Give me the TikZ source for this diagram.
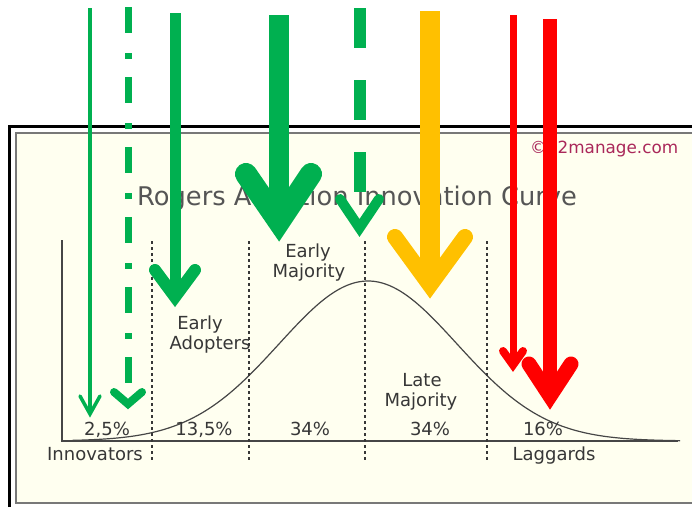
\documentclass[tikz,border=0pt]{standalone}
\usepackage{fontspec}
\setmainfont{DejaVu Sans}
\definecolor{offgreen}{HTML}{00B050}
\definecolor{offorange}{HTML}{FFC000}
\definecolor{offred}{HTML}{FF0000}
\definecolor{cream}{HTML}{FFFFF0}
\definecolor{framegray}{RGB}{120,120,120}
\definecolor{axisgray}{RGB}{70,70,70}
\definecolor{labelgray}{RGB}{55,55,55}
\definecolor{titlegray}{RGB}{85,85,85}
\definecolor{copyred}{RGB}{170,40,90}
\begin{document}
\begin{tikzpicture}[x=1pt,y=-1pt,
    lbl/.style={inner sep=0pt, anchor=base, text=labelgray, font=\fontsize{18}{20}\selectfont},
    divider/.style={labelgray, line width=1.6pt, dash pattern=on 3pt off 3pt},
    shaft/.style={line cap=butt},
    barb/.style={line cap=round, line join=miter}]
    \useasboundingbox (0,0) rectangle (692,507);
    \fill[white] (0,0) rectangle (692,507);
    \fill[cream] (16,133) rectangle (692,502);
    \draw[line width=3pt] (9.5,507) -- (9.5,126) -- (692,126);
    \draw[framegray, line width=2pt] (692,132.5) -- (15.5,132.5) -- (15.5,502.5) -- (692,502.5);
    \coordinate (origin) at (62,441);
    \draw[axisgray, line width=1.2pt] (62,240) -- (origin) -- (678,441);
    \draw[axisgray, line width=1.2pt] plot[domain=72:680, samples=160, smooth] (\x, {441-160*exp(-0.5*((\x-368)/89)^2)});
    \foreach \d in {152,249,365,487}
        \draw[divider] (\d,241) -- (\d,460);
    \node[anchor=base west, inner sep=0pt, text=titlegray, font=\fontsize{25.7}{28}\selectfont] (title) at (137,205) {Rogers Adoption Innovation Curve};
    \node[anchor=base west, inner sep=0pt, text=copyred, font=\fontsize{16.8}{18}\selectfont] (copy) at (530,153) {©12manage.com};
    \node[lbl] (eaTop) at (200,329) {Early};
    \node[lbl] (eaBot) at (210,349) {Adopters};
    \node[lbl] (emTop) at (308,257) {Early};
    \node[lbl] (emBot) at (309,277) {Majority};
    \node[lbl] (lmTop) at (422,386) {Late};
    \node[lbl] (lmBot) at (421,406) {Majority};
    \node[lbl] (pInn) at (107,435) {2,5\%};
    \node[lbl] (pEA) at (204,435) {13,5\%};
    \node[lbl] (pEM) at (310,435) {34\%};
    \node[lbl] (pLM) at (430,435) {34\%};
    \node[lbl] (pLag) at (543,435) {16\%};
    \node[lbl] (innov) at (95,460) {Innovators};
    \node[lbl] (lag) at (554,460) {Laggards};
    \coordinate (innTop) at (90,8);
    \coordinate (innTip) at (90,414);
    \draw[offgreen, shaft, line width=3.5pt] (innTop) -- (innTip);
    \draw[offgreen, barb, line width=3.5pt] (80,396) -- (innTip) -- (100,396);
    \coordinate (innDTop) at (128,7);
    \coordinate (innDEnd) at (128,384);
    \coordinate (innDTip) at (128,404);
    \draw[offgreen, shaft, line width=7pt, dash pattern=on 26pt off 20pt on 6pt off 18pt] (innDTop) -- (innDEnd);
    \draw[offgreen, barb, line width=8pt] (114,392) -- (innDTip) -- (142,392);
    \coordinate (eaArTop) at (175,13);
    \coordinate (eaArTip) at (175,297);
    \draw[offgreen, shaft, line width=11pt] (eaArTop) -- (eaArTip);
    \draw[offgreen, barb, line width=12pt] (155,270) -- (eaArTip) -- (195,270);
    \coordinate (emArTop) at (279,15);
    \coordinate (emArTip) at (279,222);
    \draw[offgreen, shaft, line width=20pt] (emArTop) -- (emArTip);
    \draw[offgreen, barb, line width=22pt] (246,174) -- (emArTip) -- (311,174);
    \coordinate (lmDTop) at (359.5,8);
    \coordinate (lmDEnd) at (359.5,192);
    \coordinate (lmDTip) at (359.5,228);
    \draw[offgreen, shaft, line width=12pt, dash pattern=on 40pt off 32pt] (lmDTop) -- (lmDEnd);
    \draw[offgreen, barb, line width=10pt] (340,199) -- (lmDTip) -- (379,199);
    \coordinate (lmArTop) at (430,11);
    \coordinate (lmArTip) at (430,285);
    \draw[offorange, shaft, line width=20pt] (lmArTop) -- (lmArTip);
    \draw[offorange, barb, line width=16pt] (395,237) -- (lmArTip) -- (465,237);
    \coordinate (lagThTop) at (513,15);
    \coordinate (lagThTip) at (513,365);
    \draw[offred, shaft, line width=7pt] (lagThTop) -- (lagThTip);
    \draw[offred, barb, line width=8pt] (503,351) -- (lagThTip) -- (523,351);
    \coordinate (lagArTop) at (550,19);
    \coordinate (lagArTip) at (550,396);
    \draw[offred, shaft, line width=14pt] (lagArTop) -- (lagArTip);
    \draw[offred, barb, line width=15pt] (529,364) -- (lagArTip) -- (571,364);
\end{tikzpicture}
\end{document}
